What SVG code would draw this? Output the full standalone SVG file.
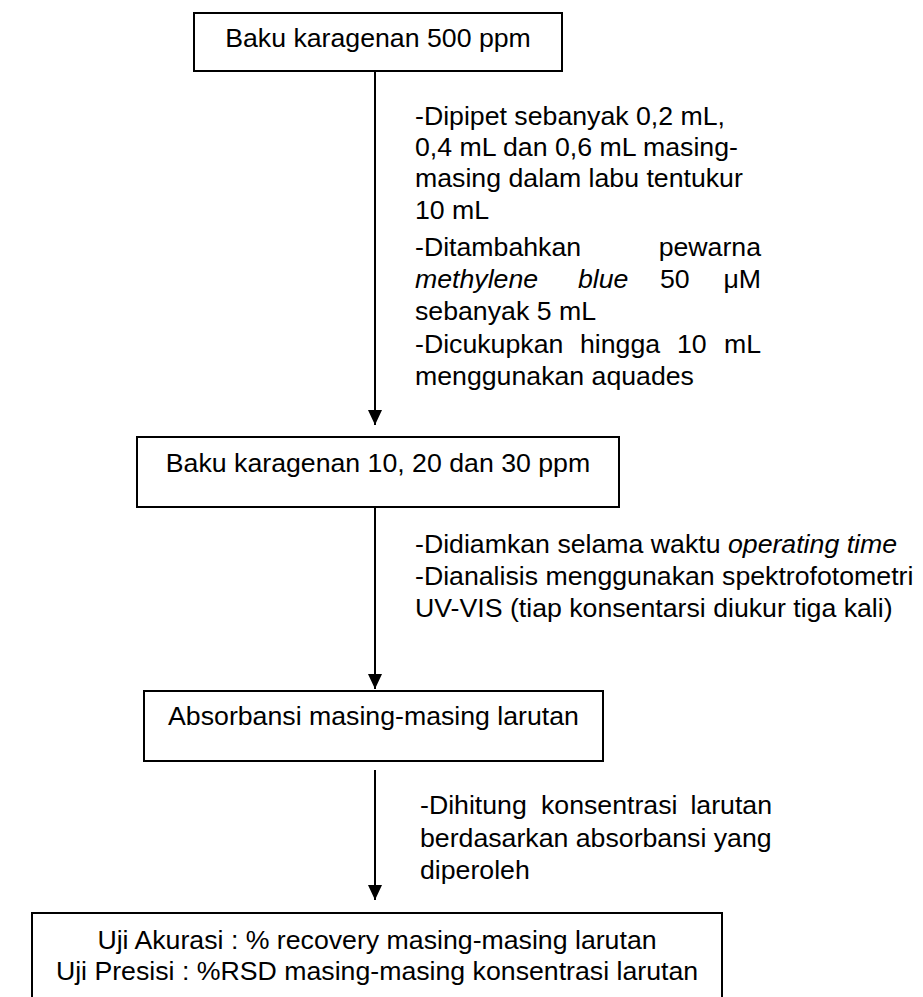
<svg xmlns="http://www.w3.org/2000/svg" width="923" height="997" viewBox="0 0 923 997">
<style>
.box{fill:#fff;stroke:#000;stroke-width:2}
.t{font-family:"Liberation Sans",Arial,sans-serif;font-size:26.7px;fill:#000}
.c{text-anchor:middle}
.e{text-anchor:end}
.i{font-style:italic}
.ln{stroke:#000;stroke-width:2;fill:none}
</style>
<defs>
<marker id="ah" markerUnits="userSpaceOnUse" markerWidth="16" markerHeight="16" viewBox="0 0 16 16" refX="15" refY="8" orient="auto">
<path d="M0,1 L15,8 L0,15 Z" fill="#000"/>
</marker>
</defs>
<rect width="923" height="997" fill="#fff"/>
<g id="connectors">
<line class="ln" x1="375" y1="71" x2="375" y2="425" marker-end="url(#ah)"/>
<line class="ln" x1="375" y1="507" x2="375" y2="689" marker-end="url(#ah)"/>
<line class="ln" x1="375" y1="770" x2="375" y2="900" marker-end="url(#ah)"/>
</g>
<g id="node1">
<rect class="box" x="194" y="13" width="368" height="58"/>
<text class="t c" x="378" y="47">Baku karagenan 500 ppm</text>
</g>
<g id="label1">
<text class="t" x="415" y="125">-Dipipet sebanyak 0,2 mL,</text>
<text class="t" x="415" y="156">0,4 mL dan 0,6 mL masing-</text>
<text class="t" x="415" y="187">masing dalam labu tentukur</text>
<text class="t" x="415" y="219">10 mL</text>
<text class="t" x="415" y="256">-Ditambahkan</text>
<text class="t e" x="761" y="256">pewarna</text>
<text class="t i" x="415" y="288">methylene</text>
<text class="t i" x="578" y="288">blue</text>
<text class="t" x="660" y="288">50</text>
<text class="t e" x="761" y="288">μM</text>
<text class="t" x="415" y="320">sebanyak 5 mL</text>
<text class="t" x="415" y="353">-Dicukupkan</text>
<text class="t" x="580" y="353">hingga</text>
<text class="t" x="677" y="353">10</text>
<text class="t e" x="761" y="353">mL</text>
<text class="t" x="415" y="385">menggunakan aquades</text>
</g>
<g id="node2">
<rect class="box" x="137" y="437" width="482" height="70"/>
<text class="t c" x="378" y="472">Baku karagenan 10, 20 dan 30 ppm</text>
</g>
<g id="label2">
<text class="t" x="415" y="553">-Didiamkan selama waktu <tspan class="i">operating time</tspan></text>
<text class="t" x="415" y="585">-Dianalisis menggunakan spektrofotometri</text>
<text class="t" x="415" y="617">UV-VIS (tiap konsentarsi diukur tiga kali)</text>
</g>
<g id="node3">
<rect class="box" x="144" y="691" width="459" height="70"/>
<text class="t c" x="373.5" y="725">Absorbansi masing-masing larutan</text>
</g>
<g id="label3">
<text class="t" x="420" y="814">-Dihitung</text>
<text class="t" x="541" y="814">konsentrasi</text>
<text class="t e" x="772" y="814">larutan</text>
<text class="t" x="420" y="847">berdasarkan absorbansi yang</text>
<text class="t" x="420" y="879">diperoleh</text>
</g>
<g id="node4">
<rect class="box" x="32" y="913" width="690" height="100"/>
<text class="t c" x="377" y="949">Uji Akurasi : % recovery masing-masing larutan</text>
<text class="t c" x="377" y="980">Uji Presisi : %RSD masing-masing konsentrasi larutan</text>
</g>
</svg>
